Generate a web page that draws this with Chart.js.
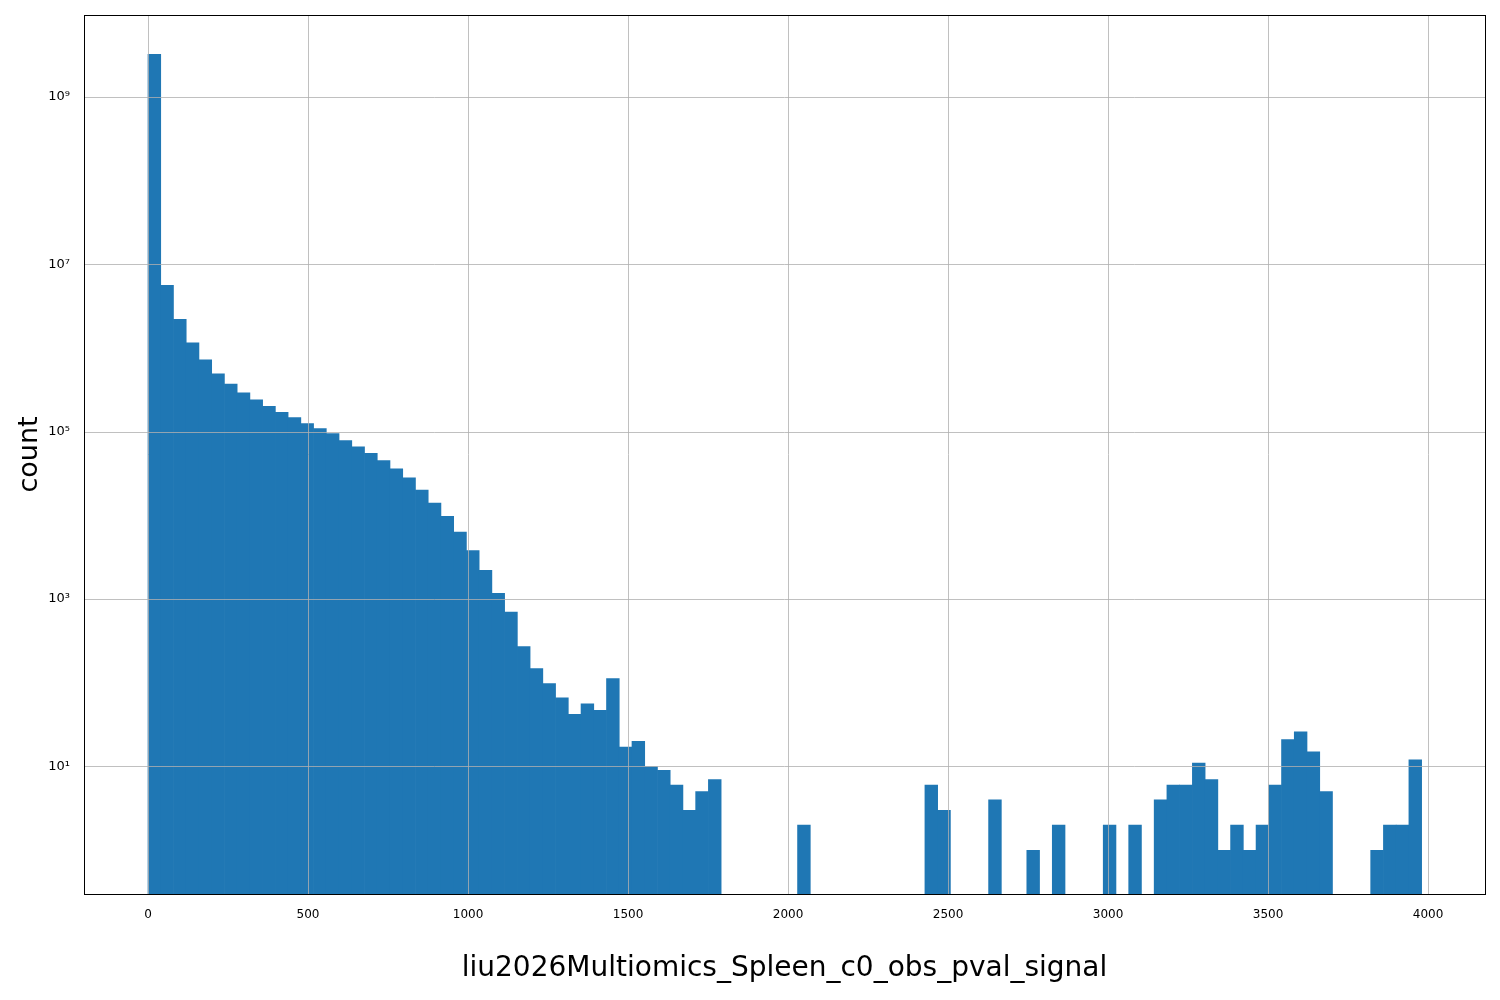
<!DOCTYPE html>
<html><head><script src="https://cdn.jsdelivr.net/npm/chart.js@4"></script>
<style>body{margin:0;background:#fff}#w{width:1500px;height:1000px}</style></head>
<body><div id="w"><canvas id="c"></canvas></div>
<script>
const binStart = 0, binWidth = 39.8;
const counts = [3.2e9,5.6e6,2.2e6,1.15e6,7.2e5,4.9e5,3.7e5,2.9e5,2.4e5,2.0e5,
1.7e5,1.47e5,1.25e5,1.09e5,9.5e4,7.8e4,6.6e4,5.5e4,4.5e4,3.6e4,
2.8e4,2.0e4,1.4e4,9700,6300,3800,2200,1170,700,270,
148,98,66,42,56,47,112,17,20,10,
9,6,3,5,7,0,0,0,0,0,
0,2,0,0,0,0,0,0,0,0,
0,6,3,0,0,0,4,0,0,1,
0,2,0,0,0,2,0,2,0,4,
6,6,11,7,1,2,1,2,6,21,
26,15,5,0,0,0,1,2,2,12];
const xTicks = [0,500,1000,1500,2000,2500,3000,3500,4000];
const yTickExps = [1,3,5,7,9];
const xLabel = 'liu2026Multiomics_Spleen_c0_obs_pval_signal';
const yLabel = 'count';

const data = counts.map((v,i)=>({x:binStart+binWidth*(i+0.5), y: v>0?v:null}));
const sup = {'0':'⁰','1':'¹','2':'²','3':'³','4':'⁴','5':'⁵','6':'⁶','7':'⁷','8':'⁸','9':'⁹'};
const gridPlugin = {id:'grid', afterDatasetsDraw(ch){
  const {ctx, chartArea:a, scales:{x,y}} = ch;
  ctx.save(); ctx.strokeStyle='#b0b0b0'; ctx.lineWidth=0.8;
  ctx.beginPath();
  xTicks.forEach(t=>{const p=Math.round(x.getPixelForValue(t))+0.5; ctx.moveTo(p,a.top); ctx.lineTo(p,a.bottom);});
  yTickExps.forEach(e=>{const p=Math.round(y.getPixelForValue(Math.pow(10,e)))+0.5; ctx.moveTo(a.left,p); ctx.lineTo(a.right,p);});
  ctx.stroke();
  ctx.strokeStyle='#000'; ctx.lineWidth=1;
  ctx.strokeRect(a.left+0.5,a.top+0.5,a.right-a.left,a.bottom-a.top);
  ctx.restore();
}};
new Chart(document.getElementById('c'),{
  type:'bar',
  data:{datasets:[{data, backgroundColor:'#1f77b4', borderWidth:0, barPercentage:1, categoryPercentage:1, base:0.01}]},
  options:{responsive:true, maintainAspectRatio:false, animation:false,
    layout:{padding:{top:15,right:15,left:14,bottom:0}},
    plugins:{legend:{display:false}, tooltip:{enabled:false}},
    scales:{
      x:{type:'linear', offset:false, min:-200, max:4178, grid:{display:false, offset:false}, border:{display:false},
        afterBuildTicks(s){s.ticks=xTicks.map(v=>({value:v}));},
        ticks:{color:'#000', font:{size:12, family:'DejaVu Sans'}, padding:6, callback:v=>String(v)},
        title:{display:true, text:xLabel, color:'#000', font:{size:28, family:'DejaVu Sans'}, padding:{top:20,bottom:14}},
        afterFit(s){s.height=106;}},
      y:{type:'logarithmic', min:0.334, max:9.46e9, grid:{display:false}, border:{display:false},
        afterBuildTicks(s){s.ticks=yTickExps.map(e=>({value:Math.pow(10,e)}));},
        ticks:{color:'#000', font:{size:13, family:'DejaVu Sans'}, padding:6,
          callback:v=>'10'+String(Math.round(Math.log10(v))).split('').map(c=>sup[c]).join('')},
        title:{display:true, text:yLabel, color:'#000', font:{size:27, family:'DejaVu Sans'}, padding:{top:0,bottom:8}},
        afterFit(s){s.width=70;}}
    }},
  plugins:[gridPlugin]
});
</script></body></html>
